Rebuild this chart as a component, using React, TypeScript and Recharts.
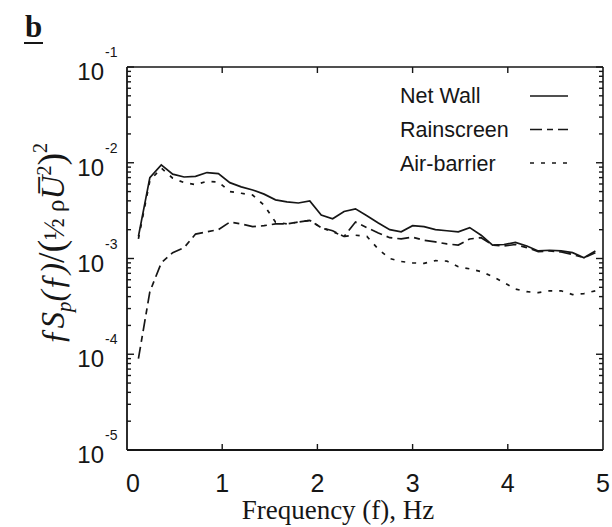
import React from 'react';
import { LineChart, Line, XAxis, YAxis } from 'recharts';

// frequency grid (Hz)
const freq = [
  0.12, 0.24, 0.36, 0.48, 0.6, 0.72, 0.84, 0.96, 1.08, 1.2, 1.32, 1.44, 1.56, 1.68,
  1.8, 1.92, 2.04, 2.16, 2.28, 2.4, 2.52, 2.64, 2.76, 2.88, 3.0, 3.12, 3.24, 3.36,
  3.48, 3.6, 3.72, 3.84, 3.96, 4.08, 4.2, 4.32, 4.44, 4.56, 4.68, 4.8, 4.92,
];

const netWall = [
  1.7e-3, 7.0e-3, 9.5e-3, 7.6e-3, 7.1e-3, 7.2e-3, 7.9e-3, 7.7e-3, 6.2e-3, 5.6e-3, 5.2e-3, 4.7e-3, 4.1e-3, 3.9e-3,
  3.8e-3, 4.0e-3, 2.85e-3, 2.6e-3, 3.1e-3, 3.3e-3, 2.8e-3, 2.35e-3, 2.0e-3, 1.9e-3, 2.2e-3, 2.15e-3, 2.0e-3, 1.95e-3,
  1.9e-3, 2.1e-3, 1.75e-3, 1.38e-3, 1.4e-3, 1.47e-3, 1.35e-3, 1.2e-3, 1.22e-3, 1.2e-3, 1.15e-3, 1.02e-3, 1.2e-3,
];

const rainscreen = [
  9e-5, 4.5e-4, 9e-4, 1.15e-3, 1.3e-3, 1.8e-3, 1.9e-3, 2.0e-3, 2.4e-3, 2.3e-3, 2.15e-3, 2.2e-3, 2.3e-3, 2.3e-3,
  2.4e-3, 2.5e-3, 2.1e-3, 1.95e-3, 1.7e-3, 2.4e-3, 2.1e-3, 1.85e-3, 1.65e-3, 1.6e-3, 1.67e-3, 1.55e-3, 1.49e-3, 1.42e-3,
  1.38e-3, 1.6e-3, 1.65e-3, 1.38e-3, 1.35e-3, 1.4e-3, 1.3e-3, 1.18e-3, 1.2e-3, 1.17e-3, 1.1e-3, 1.02e-3, 1.15e-3,
];

const airBarrier = [
  1.6e-3, 6.5e-3, 8.8e-3, 6.9e-3, 6.2e-3, 5.9e-3, 6.4e-3, 6.3e-3, 5.0e-3, 4.8e-3, 4.6e-3, 3.6e-3, 2.4e-3, 2.3e-3,
  2.4e-3, 2.5e-3, 2.1e-3, 1.9e-3, 1.7e-3, 1.75e-3, 1.7e-3, 1.25e-3, 1.0e-3, 9.3e-4, 9.0e-4, 8.9e-4, 9.5e-4, 9.4e-4,
  8.2e-4, 7.8e-4, 7.3e-4, 6.5e-4, 5.6e-4, 4.8e-4, 4.5e-4, 4.4e-4, 4.6e-4, 4.6e-4, 4.2e-4, 4.3e-4, 4.6e-4,
];

const xTicks = [0, 1, 2, 3, 4, 5];

const data = freq.map((f, i) => ({ f, net: netWall[i], rain: rainscreen[i], air: airBarrier[i] }));

// log ticks incl. minor ones
const yTicks: number[] = [];
for (let e = -5; e < -1; e++) {
  for (let k = 1; k < 10; k++) yTicks.push(Number((k * Math.pow(10, e)).toPrecision(3)));
}
yTicks.push(1e-1);

const isMajor = (v: number) => Math.abs(Math.log10(v) - Math.round(Math.log10(v))) < 1e-6;

const INK = '#161616';
const SANS = '"Liberation Sans", Arial, sans-serif';
const SERIF = '"Liberation Serif", "Times New Roman", serif';
const RAIN_DASH = '12 5 6 5';
const AIR_DASH = '4 7';

const LeftTick = (props: any) => {
  const { x, y, payload } = props;
  const v = payload.value;
  const major = isMajor(v);
  const len = major ? 7 : 4;
  return (
    <g>
      <path d={`M${x},${y}h${len}`} stroke={INK} strokeWidth={1.4} fill="none" />
      {major && (
        <text fontFamily={SANS} fill={INK}>
          <tspan x={x - 23} y={y + 13} fontSize={24} textAnchor="end">10</tspan>
          <tspan x={x - 22} y={y - 10} fontSize={14} textAnchor="start">{'-' + Math.abs(Math.round(Math.log10(v)))}</tspan>
        </text>
      )}
    </g>
  );
};

const RightTick = (props: any) => {
  const { x, y, payload } = props;
  const len = isMajor(payload.value) ? 7 : 4;
  return <path d={`M${x},${y}h${-len}`} stroke={INK} strokeWidth={1.4} fill="none" />;
};

const BottomTick = (props: any) => {
  const { x, y, payload } = props;
  const inner = payload.value > 0 && payload.value < 5;
  return (
    <g>
      {inner && <path d={`M${x},${y}v-6`} stroke={INK} strokeWidth={1.4} fill="none" />}
      <text x={x + (payload.value === 0 ? 6 : 0)} y={y + 42} fontSize={25} fontFamily={SANS} fill={INK} textAnchor="middle">
        {payload.value}
      </text>
    </g>
  );
};

const TopTick = (props: any) => {
  const { x, y, payload } = props;
  if (payload.value <= 0 || payload.value >= 5) return <g />;
  return <path d={`M${x},${y}v6`} stroke={INK} strokeWidth={1.4} fill="none" />;
};

const legendItems = [
  { name: 'Net Wall', dash: undefined as string | undefined },
  { name: 'Rainscreen', dash: RAIN_DASH },
  { name: 'Air-barrier', dash: AIR_DASH },
];

export default function App() {
  return (
    <div style={{ position: 'absolute', left: 0, top: 0, width: 612, height: 527, background: '#fff' }}>
      <LineChart width={612} height={527} data={data} margin={{ top: 66, right: 8, bottom: 47, left: 0 }}>
        <XAxis
          dataKey="f"
          type="number"
          domain={[0, 5]}
          ticks={xTicks}
          height={30}
          tickSize={0}
          tickMargin={0}
          tick={<BottomTick />}
          stroke={INK}
          strokeWidth={1.8}
          axisLine
          allowDataOverflow
        />
        <XAxis
          xAxisId="t"
          dataKey="f"
          orientation="top"
          type="number"
          domain={[0, 5]}
          ticks={xTicks}
          height={1}
          tickSize={0}
          tickMargin={0}
          tick={<TopTick />}
          stroke={INK}
          strokeWidth={1.6}
          axisLine
          allowDataOverflow
        />
        <YAxis
          scale="log"
          type="number"
          domain={[1e-5, 1e-1]}
          ticks={yTicks}
          interval={0}
          width={127}
          tickSize={0}
          tickMargin={0}
          tick={<LeftTick />}
          stroke={INK}
          strokeWidth={1.8}
          axisLine
          allowDataOverflow
        />
        <YAxis
          yAxisId="r"
          orientation="right"
          scale="log"
          type="number"
          domain={[1e-5, 1e-1]}
          ticks={yTicks}
          interval={0}
          width={1}
          tickSize={0}
          tickMargin={0}
          tick={<RightTick />}
          stroke={INK}
          strokeWidth={1.6}
          axisLine
          allowDataOverflow
        />
        <Line type="linear" dataKey="net" stroke={INK} strokeWidth={1.7} dot={false} isAnimationActive={false} />
        <Line type="linear" dataKey="rain" stroke={INK} strokeWidth={1.7} strokeDasharray={RAIN_DASH} dot={false} isAnimationActive={false} />
        <Line type="linear" dataKey="air" stroke={INK} strokeWidth={1.7} strokeDasharray={AIR_DASH} dot={false} isAnimationActive={false} />
        {/* invisible series so the top/right frame axes get drawn */}
        <Line xAxisId="t" yAxisId="r" type="linear" dataKey="net" stroke="none" dot={false} legendType="none" isAnimationActive={false} />
      </LineChart>

      <svg width={612} height={527} style={{ position: 'absolute', left: 0, top: 0, pointerEvents: 'none' }}>
        {/* panel letter */}
        <text x={25} y={37} fontFamily={SERIF} fontWeight="bold" fontSize={31} fill={INK}>b</text>
        <line x1={24} y1={43} x2={43} y2={43} stroke={INK} strokeWidth={2} />

        {/* legend */}
        {legendItems.map((it, i) => (
          <g key={it.name}>
            <text x={400} y={103 + i * 34} fontFamily={SANS} fontSize={21.5} fill={INK}>{it.name}</text>
            <line x1={530} y1={96 + i * 33.5} x2={568} y2={96 + i * 33.5} stroke={INK} strokeWidth={1.5} strokeDasharray={it.dash} />
          </g>
        ))}

        {/* x label */}
        <text x={338} y={519} fontFamily={SERIF} fontSize={27} fill={INK} textAnchor="middle">Frequency (f), Hz</text>

        {/* y label */}
        <text transform="translate(64,244) rotate(-90)" fontFamily={SERIF} fill={INK} textAnchor="middle">
          <tspan fontSize={33} fontStyle="italic">ƒS</tspan>
          <tspan fontSize={21} fontStyle="italic" dy={7}>p</tspan>
          <tspan fontSize={33} fontStyle="italic" dy={-7}>(ƒ)</tspan>
          <tspan fontSize={38}>/(</tspan>
          <tspan fontSize={29}>½</tspan>
          <tspan fontSize={25}> ρ</tspan>
          <tspan fontSize={33} fontStyle="italic">U̅</tspan>
          <tspan fontSize={20} dy={-13}>2</tspan>
          <tspan fontSize={38} dy={13}>)</tspan>
          <tspan fontSize={20} dy={-17}>2</tspan>
        </text>
      </svg>
    </div>
  );
}
